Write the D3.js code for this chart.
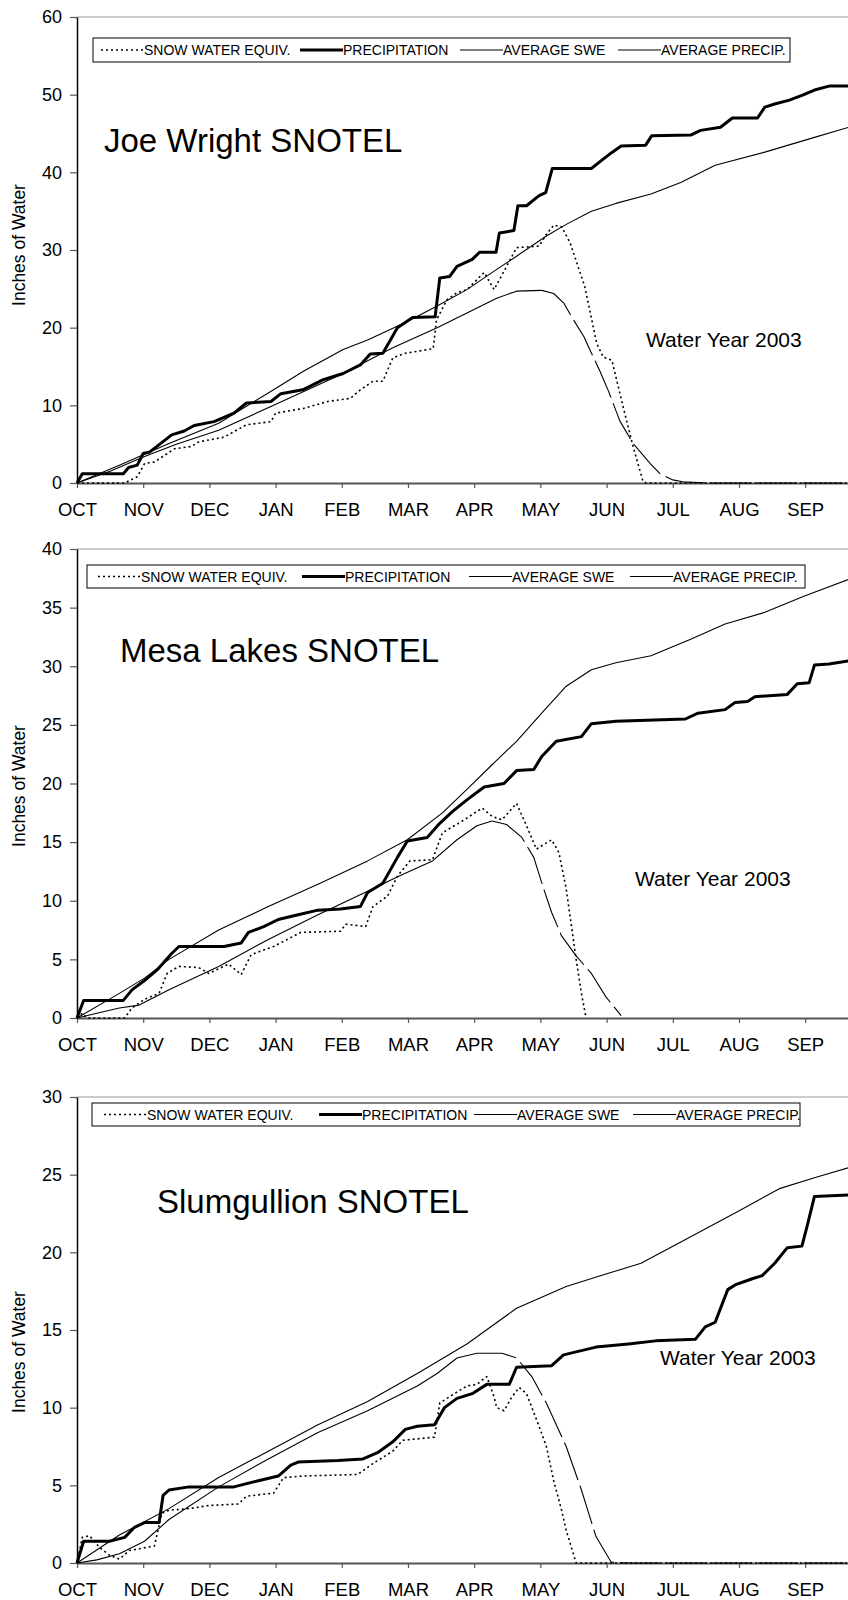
<!DOCTYPE html>
<html>
<head>
<meta charset="utf-8">
<script src="https://cdn.jsdelivr.net/npm/d3@7"></script>
<style>
body { margin: 0; background: #fff; }
svg { display: block; font-family: "Liberation Sans", Arial, sans-serif; }
</style>
</head>
<body>
<div id="chart"></div>
<script>
// month labels of the water year, ticks are evenly spaced
let months = ["OCT", "NOV", "DEC", "JAN", "FEB", "MAR", "APR", "MAY", "JUN", "JUL", "AUG", "SEP"]
let legendNames = ["SNOW WATER EQUIV.", "PRECIPITATION", "AVERAGE SWE", "AVERAGE PRECIP."]
let yearLabel = "Water Year 2003"
let yTitle = "Inches of Water"

// points are [months since Oct 1, inches]
// Joe Wright
let joePrecip = [[0,0],[0.08,1.2],[0.7,1.2],[0.78,2.0],[0.91,2.3],[1.0,3.8],[1.1,4.0],[1.28,5.2],[1.43,6.2],[1.62,6.7],[1.77,7.4],[2.07,7.9],[2.37,9.0],[2.56,10.3],[2.93,10.5],[3.08,11.5],[3.41,12.0],[3.72,13.3],[4.02,14.1],[4.28,15.2],[4.43,16.6],[4.62,16.7],[4.84,20.0],[5.07,21.3],[5.41,21.4],[5.48,26.4],[5.63,26.6],[5.74,27.9],[5.97,28.8],[6.08,29.7],[6.33,29.7],[6.38,32.2],[6.6,32.5],[6.66,35.7],[6.79,35.7],[6.98,37.0],[7.08,37.4],[7.18,40.5],[7.77,40.5],[7.92,41.5],[8.07,42.5],[8.22,43.4],[8.59,43.5],[8.68,44.7],[9.27,44.8],[9.42,45.4],[9.72,45.8],[9.9,47.0],[10.28,47.0],[10.39,48.4],[10.54,48.8],[10.76,49.3],[10.95,49.9],[11.14,50.6],[11.36,51.1],[11.7,51.1]]
let joeSwe = [[0,0],[0.72,0],[0.91,0.8],[1.02,2.5],[1.17,2.7],[1.47,4.4],[1.73,4.7],[1.84,5.3],[2.22,5.9],[2.56,7.5],[2.93,7.9],[3.0,9.0],[3.42,9.6],[3.79,10.5],[4.13,10.9],[4.28,12.0],[4.47,13.1],[4.62,13.1],[4.77,16.1],[4.96,16.7],[5.38,17.3],[5.43,21.0],[5.59,23.6],[5.74,24.5],[5.89,24.9],[6.15,27.1],[6.3,24.9],[6.49,27.9],[6.64,30.3],[6.98,30.5],[7.09,32.0],[7.2,33.2],[7.32,33.0],[7.45,30.9],[7.67,25.3],[7.85,18.0],[7.95,16.2],[8.08,15.8],[8.25,9.8],[8.4,4.7],[8.55,0.2],[8.6,0],[11.7,0]]
let joeAvgSwe = [[0,0],[0.5,1.5],[1.02,3.4],[1.5,5.0],[2.14,6.8],[2.97,10.0],[4.02,14.1],[4.77,17.4],[5.44,20.0],[5.89,21.9],[6.34,23.8],[6.64,24.7],[7.02,24.8],[7.2,24.4],[7.35,23.2],[7.5,21.0],[7.66,18.8],[7.75,17.1],[7.9,14.4],[8.03,11.8],[8.2,8.0],[8.4,5.1],[8.66,2.5],[8.81,1.15],[9.0,0.4],[9.15,0.15],[9.6,0],[11.7,0]]
let joeAvgPrecip = [[0,0],[0.64,2.3],[1.39,5.1],[2.14,7.7],[2.89,11.6],[3.42,14.4],[4.02,17.2],[4.39,18.4],[4.99,20.8],[5.44,22.8],[5.89,24.9],[6.34,27.5],[6.64,29.2],[7.09,31.8],[7.39,33.3],[7.77,35.0],[8.14,36.0],[8.67,37.2],[9.12,38.7],[9.64,40.9],[10.39,42.6],[11.14,44.5],[11.7,45.9]]

// Mesa Lakes
let mesaPrecip = [[0,0],[0.1,1.5],[0.7,1.5],[0.83,2.4],[1.02,3.2],[1.21,4.1],[1.43,5.5],[1.54,6.1],[2.22,6.1],[2.48,6.4],[2.59,7.3],[2.82,7.8],[3.04,8.4],[3.34,8.8],[3.64,9.2],[3.98,9.3],[4.28,9.5],[4.39,10.7],[4.62,11.5],[4.84,13.7],[4.99,15.1],[5.29,15.4],[5.48,16.6],[5.67,17.6],[5.89,18.6],[6.15,19.7],[6.45,20.0],[6.64,21.1],[6.9,21.2],[7.02,22.3],[7.24,23.6],[7.62,24.0],[7.77,25.1],[8.14,25.3],[9.19,25.5],[9.38,26.0],[9.79,26.3],[9.94,26.9],[10.13,27.0],[10.24,27.4],[10.73,27.6],[10.88,28.5],[11.06,28.6],[11.14,30.1],[11.36,30.2],[11.7,30.5]]
let mesaSwe = [[0,0],[0.08,0.4],[0.15,0],[0.72,0],[0.83,0.85],[1.02,1.6],[1.24,2.1],[1.36,3.8],[1.54,4.4],[1.84,4.3],[1.99,3.8],[2.29,4.6],[2.48,3.7],[2.63,5.4],[2.97,6.1],[3.38,7.3],[3.98,7.4],[4.06,8.0],[4.36,7.8],[4.47,9.5],[4.69,10.4],[4.84,12.1],[5.03,13.4],[5.37,13.5],[5.52,15.8],[5.82,16.8],[6.12,17.9],[6.27,17.2],[6.42,16.9],[6.64,18.3],[6.79,16.4],[6.94,14.4],[7.05,14.8],[7.17,15.2],[7.28,14.1],[7.39,11.0],[7.47,7.8],[7.54,5.0],[7.62,2.1],[7.69,0]]
let mesaAvgSwe = [[0,0],[0.3,0.4],[0.64,0.85],[0.94,1.1],[1.39,2.4],[2.14,4.4],[2.89,6.7],[3.64,8.8],[4.39,10.8],[4.9,12.2],[5.37,13.4],[5.74,15.2],[6.04,16.4],[6.27,16.8],[6.49,16.5],[6.72,15.4],[6.9,13.7],[7.05,11.0],[7.17,9.0],[7.32,7.0],[7.54,5.3],[7.77,3.8],[7.99,1.8],[8.22,0.2]]
let mesaAvgPrecip = [[0,0],[0.64,2.1],[1.02,3.4],[1.39,5.0],[2.14,7.5],[2.89,9.5],[3.64,11.4],[4.39,13.4],[4.99,15.2],[5.52,17.5],[5.89,19.5],[6.27,21.6],[6.64,23.6],[7.02,26.0],[7.39,28.3],[7.77,29.7],[8.14,30.3],[8.67,30.9],[9.27,32.3],[9.79,33.6],[10.39,34.6],[10.99,36.0],[11.7,37.5]]

// Slumgullion
let slumPrecip = [[0,0],[0.1,1.4],[0.49,1.4],[0.72,1.65],[0.87,2.3],[1.02,2.6],[1.24,2.6],[1.3,4.35],[1.39,4.7],[1.69,4.9],[2.37,4.9],[2.74,5.3],[3.04,5.6],[3.23,6.3],[3.34,6.5],[3.94,6.6],[4.32,6.7],[4.54,7.1],[4.77,7.8],[4.96,8.6],[5.14,8.8],[5.4,8.9],[5.55,10.0],[5.74,10.6],[5.97,10.9],[6.19,11.5],[6.53,11.5],[6.64,12.6],[7.17,12.7],[7.35,13.4],[7.84,13.9],[8.33,14.1],[8.74,14.3],[9.34,14.4],[9.49,15.2],[9.64,15.5],[9.83,17.6],[9.94,17.9],[10.2,18.3],[10.35,18.5],[10.54,19.3],[10.73,20.3],[10.95,20.4],[11.03,21.7],[11.14,23.6],[11.7,23.7]]
let slumSwe = [[0,0],[0.08,1.65],[0.19,1.75],[0.34,1.0],[0.49,0.5],[0.64,0.25],[0.79,0.8],[1.17,1.1],[1.28,3.2],[1.39,3.4],[1.69,3.5],[1.99,3.7],[2.44,3.8],[2.56,4.3],[2.97,4.5],[3.12,5.5],[3.42,5.6],[4.24,5.7],[4.47,6.4],[4.77,7.2],[4.92,7.9],[5.4,8.1],[5.48,10.3],[5.7,10.9],[5.89,11.4],[6.04,11.5],[6.19,12.0],[6.3,10.7],[6.34,10.0],[6.45,9.8],[6.57,10.7],[6.68,11.3],[6.79,10.9],[6.98,8.8],[7.09,7.5],[7.2,5.3],[7.32,3.4],[7.39,2.1],[7.54,0],[11.7,0]]
let slumAvgSwe = [[0,0],[0.3,0.2],[0.64,0.6],[1.02,1.4],[1.39,2.8],[2.14,4.9],[2.89,6.7],[3.64,8.4],[4.39,9.8],[5.14,11.4],[5.44,12.2],[5.74,13.2],[6.04,13.5],[6.42,13.5],[6.64,13.2],[6.87,12.0],[7.09,10.3],[7.39,7.5],[7.62,4.7],[7.84,1.7],[8.07,0.05],[8.3,0],[11.7,0]]
let slumAvgPrecip = [[0,0],[0.64,1.8],[1.39,3.5],[2.14,5.5],[2.89,7.2],[3.64,8.9],[4.39,10.4],[5.14,12.2],[5.89,14.1],[6.64,16.4],[7.39,17.8],[7.99,18.6],[8.52,19.3],[9.27,21.0],[10.01,22.7],[10.61,24.1],[11.14,24.8],[11.7,25.5]]

let width = 848, height = 1600

// layout of the three stacked charts
let panels = [
    { title: "Joe Wright SNOTEL", yMax: 60, yStep: 10, top: 17, bottom: 483,
      swe: joeSwe, precip: joePrecip, avgSwe: joeAvgSwe, avgPrecip: joeAvgPrecip,
      titleX: 104, titleY: 152, yearX: 646, yearY: 347, yTitleY: 245,
      box: [93, 38, 790, 62], legendX: [144, 343, 503, 661] },
    { title: "Mesa Lakes SNOTEL", yMax: 40, yStep: 5, top: 549, bottom: 1018,
      swe: mesaSwe, precip: mesaPrecip, avgSwe: mesaAvgSwe, avgPrecip: mesaAvgPrecip,
      titleX: 120, titleY: 662, yearX: 635, yearY: 886, yTitleY: 786,
      box: [87, 565, 805, 588], legendX: [141, 345, 512, 673] },
    { title: "Slumgullion SNOTEL", yMax: 30, yStep: 5, top: 1097, bottom: 1563,
      swe: slumSwe, precip: slumPrecip, avgSwe: slumAvgSwe, avgPrecip: slumAvgPrecip,
      titleX: 157, titleY: 1213, yearX: 660, yearY: 1365, yTitleY: 1352,
      box: [92, 1103, 800, 1126], legendX: [147, 362, 517, 676] }
]

let svg = d3.select("#chart")
    .append("svg")
    .attr("width", width)
    .attr("height", height)

let x = d3.scaleLinear()
    .domain([0, 12])
    .range([77, 77 + 66.2 * 12])

let styles = {
    swe: { w: 1.6, dash: "2,3" },
    precip: { w: 3, dash: null },
    avg: { w: 1.1, dash: null }
}

panels.forEach((p) => {
    let y = d3.scaleLinear()
        .domain([0, p.yMax])
        .range([p.bottom, p.top])
    let g = svg.append("g")

    // grey frame line on top of the plot area
    g.append("line")
        .attr("x1", x(0)).attr("x2", width)
        .attr("y1", p.top).attr("y2", p.top)
        .attr("stroke", "#9a9a9a")
        .attr("stroke-width", 1.2)

    // X axis
    let xAxis = g.append("g")
        .attr("transform", "translate(0," + p.bottom + ")")
        .call(d3.axisBottom(x)
            .tickValues(d3.range(0, 12))
            .tickFormat((i) => months[i])
            .tickSize(5)
            .tickSizeOuter(0)
            .tickPadding(15))
    xAxis.select(".domain").attr("stroke", "#555").attr("stroke-width", 2)
    xAxis.selectAll(".tick line").attr("stroke", "#555").attr("stroke-width", 1.2)
    xAxis.selectAll("text")
        .attr("font-size", 18.5)
        .attr("font-family", "Liberation Sans, Arial, sans-serif")
        .attr("fill", "#000")

    // Y axis
    let yAxis = g.append("g")
        .attr("transform", "translate(" + x(0) + ",0)")
        .call(d3.axisLeft(y)
            .tickValues(d3.range(0, p.yMax + 1, p.yStep))
            .tickSize(7)
            .tickSizeOuter(0)
            .tickPadding(8))
    yAxis.select(".domain").attr("stroke", "#000").attr("stroke-width", 1.5)
    yAxis.selectAll(".tick line").attr("stroke", "#555").attr("stroke-width", 1.2)
    yAxis.selectAll("text")
        .attr("font-size", 18)
        .attr("font-family", "Liberation Sans, Arial, sans-serif")
        .attr("fill", "#000")

    g.append("text")
        .attr("transform", "translate(25," + p.yTitleY + ") rotate(-90)")
        .attr("text-anchor", "middle")
        .attr("font-size", 17.5)
        .text(yTitle)

    let line = d3.line()
        .x((d) => x(d[0]))
        .y((d) => y(d[1]))

    let drawLine = (pts, st, dash) => {
        g.append("path")
            .attr("d", line(pts))
            .attr("fill", "none")
            .attr("stroke", "#000")
            .attr("stroke-width", st.w)
            .attr("stroke-dasharray", dash || st.dash)
            .attr("stroke-linejoin", "round")
    }

    // average SWE: solid while building up, long dashes while melting
    let iPeak = d3.maxIndex(p.avgSwe, (d) => d[1])
    drawLine(p.avgPrecip, styles.avg)
    drawLine(p.avgSwe.slice(0, iPeak + 1), styles.avg)
    drawLine(p.avgSwe.slice(iPeak), styles.avg, "40,6")
    drawLine(p.swe, styles.swe)
    drawLine(p.precip, styles.precip)

    // legend
    let b = p.box
    g.append("rect")
        .attr("x", b[0]).attr("y", b[1])
        .attr("width", b[2] - b[0]).attr("height", b[3] - b[1])
        .attr("fill", "#fff")
        .attr("stroke", "#000")
        .attr("stroke-width", 1)
    let ly = (b[1] + b[3]) / 2
    let legendStyles = [styles.swe, styles.precip, styles.avg, styles.avg]
    legendNames.forEach((name, i) => {
        let tx = p.legendX[i]
        g.append("line")
            .attr("x1", tx - 43).attr("x2", tx)
            .attr("y1", ly).attr("y2", ly)
            .attr("stroke", "#000")
            .attr("stroke-width", legendStyles[i].w)
            .attr("stroke-dasharray", legendStyles[i].dash)
        g.append("text")
            .attr("x", tx)
            .attr("y", ly + 5)
            .attr("font-size", 14)
            .text(name)
    })

    g.append("text")
        .attr("x", p.titleX)
        .attr("y", p.titleY)
        .attr("font-size", 33)
        .text(p.title)

    g.append("text")
        .attr("x", p.yearX)
        .attr("y", p.yearY)
        .attr("font-size", 21)
        .text(yearLabel)
})
</script>
</body>
</html>
